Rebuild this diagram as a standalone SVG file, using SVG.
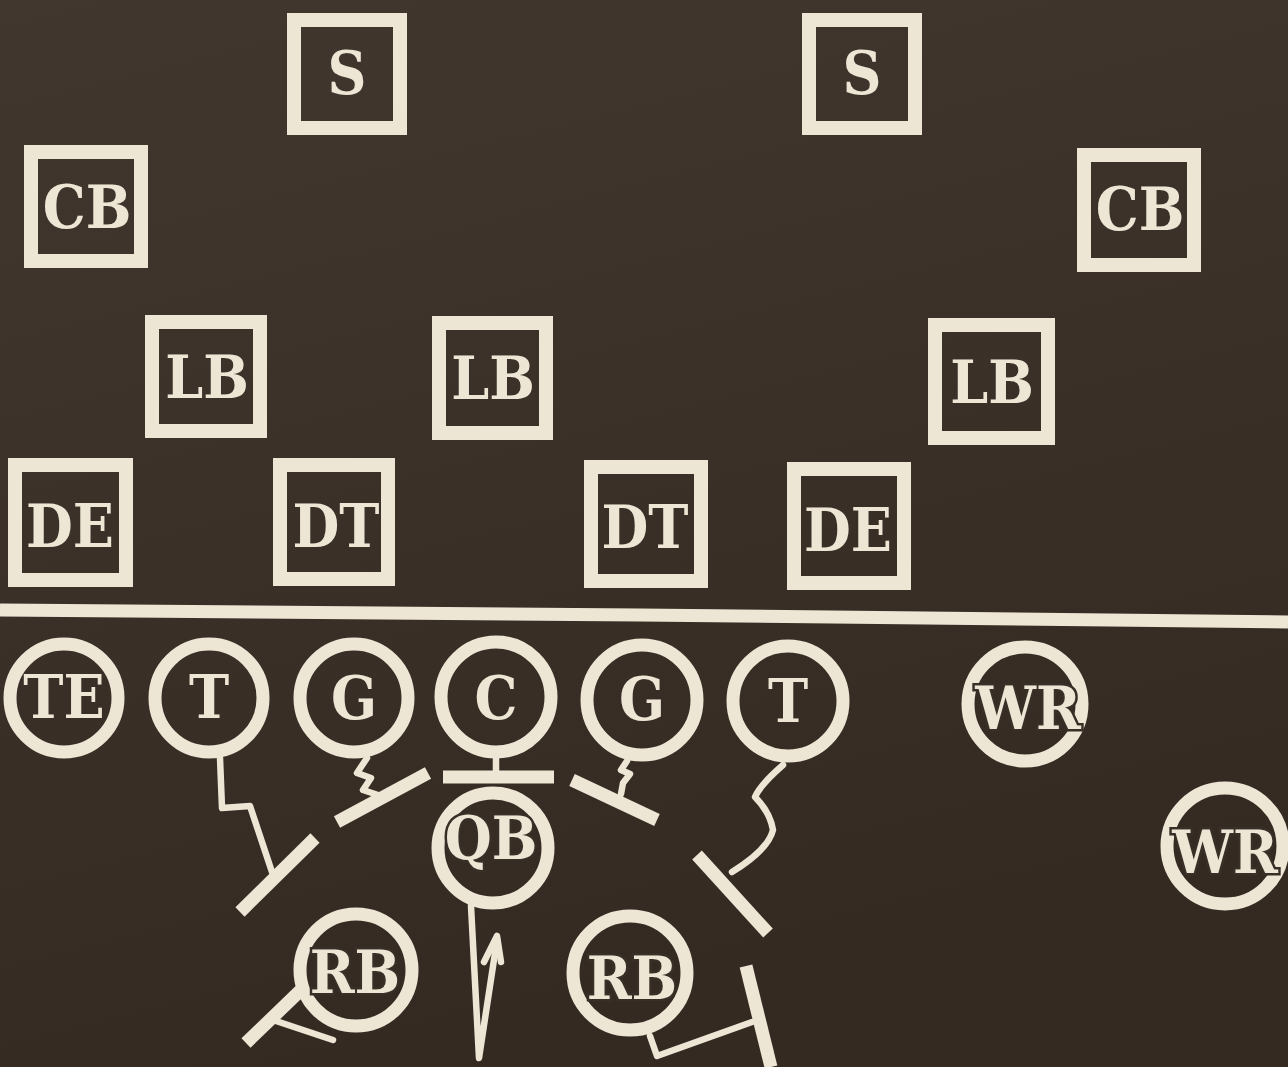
<svg xmlns="http://www.w3.org/2000/svg" width="1288" height="1067" viewBox="0 0 1288 1067">
<defs>
<linearGradient id="bg" x1="0" y1="0" x2="0.3" y2="1">
<stop offset="0" stop-color="#41372e"/>
<stop offset="1" stop-color="#342a22"/>
</linearGradient>
</defs>
<style>
.box{fill:none;stroke:#ede6d5;stroke-width:14}
.ring{fill:none;stroke:#ede6d5;stroke-width:13}
.lbl{fill:#ede6d5;font-family:"DejaVu Serif Condensed","DejaVu Serif","Liberation Serif",serif;font-stretch:condensed;font-weight:bold;font-size:60px;text-anchor:middle}
.halo{stroke:#382f27;stroke-width:5;paint-order:stroke}
.bar{stroke:#ede6d5;stroke-width:13;stroke-linecap:butt;fill:none}
.stem{stroke:#ede6d5;stroke-width:6.5;stroke-linecap:round;stroke-linejoin:round;fill:none}
.los{stroke:#ede6d5;stroke-width:13;fill:none}
</style>
<rect width="1288" height="1067" fill="url(#bg)"/>
<path class="los" d="M0,610 L640,615 L1288,622"/>
<g id="defense">
<g id="S1"><rect class="box" x="294" y="20" width="106" height="108"/><text class="lbl" x="347" y="94">S</text></g>
<g id="S2"><rect class="box" x="809" y="20" width="106" height="108"/><text class="lbl" x="862" y="94">S</text></g>
<g id="CB1"><rect class="box" x="31" y="152" width="110" height="109"/><text class="lbl" x="87" y="228">CB</text></g>
<g id="CB2"><rect class="box" x="1084" y="155" width="110" height="110"/><text class="lbl" x="1140" y="230">CB</text></g>
<g id="LB1"><rect class="box" x="152" y="322" width="108" height="109"/><text class="lbl" x="207" y="398">LB</text></g>
<g id="LB2"><rect class="box" x="439" y="323" width="107" height="110"/><text class="lbl" x="493" y="399">LB</text></g>
<g id="LB3"><rect class="box" x="935" y="325" width="113" height="113"/><text class="lbl" x="992" y="403">LB</text></g>
<g id="DE1"><rect class="box" x="15" y="465" width="111" height="115"/><text class="lbl" x="70" y="547">DE</text></g>
<g id="DT1"><rect class="box" x="280" y="465" width="108" height="114"/><text class="lbl" x="336" y="547">DT</text></g>
<g id="DT2"><rect class="box" x="591" y="467" width="110" height="114"/><text class="lbl" x="645" y="548">DT</text></g>
<g id="DE2"><rect class="box" x="794" y="469" width="110" height="114"/><text class="lbl" x="848" y="551">DE</text></g>
</g>
<g id="connectors">
<path class="stem" d="M220,758 L222,808 L250,806 L272,872"/>
<path class="bar" d="M240,912 L315,838"/>
<path class="stem" d="M367,758 L357,773 L371,778 L363,790 L378,795"/>
<path class="bar" d="M337,822 L428,773"/>
<path class="stem" d="M496,758 L496,772"/>
<path class="bar" d="M443,777 L554,777"/>
<path class="stem" d="M627,761 L621,770 L630,774 L623,783 L621,794"/>
<path class="bar" d="M572,780 L657,820"/>
<path class="stem" d="M783,765 Q760,785 755,797 Q770,812 773,830 Q768,850 732,872"/>
<path class="bar" d="M697,855 L768,933"/>
<path class="stem" d="M471,906 L479,1058 L497,940"/>
<path class="stem" d="M484,962 L497,936 L501,962"/>
<path class="stem" d="M333,1040 L273,1020"/>
<path class="bar" d="M246,1043 L302,989"/>
<path class="stem" d="M650,1036 L657,1056 L752,1022"/>
<path class="bar" d="M746,966 L771,1067"/>
</g>
<g id="offense">
<g id="TE"><circle class="ring" cx="64" cy="698" r="54"/><text class="lbl" x="64" y="718">TE</text></g>
<g id="T1"><circle class="ring" cx="209" cy="698" r="54"/><text class="lbl" x="209" y="718">T</text></g>
<g id="G1"><circle class="ring" cx="354" cy="698" r="54"/><text class="lbl" x="354" y="719">G</text></g>
<g id="C"><circle class="ring" cx="496" cy="697" r="55"/><text class="lbl" x="496" y="719">C</text></g>
<g id="G2"><circle class="ring" cx="642" cy="700" r="55"/><text class="lbl" x="642" y="720">G</text></g>
<g id="T2"><circle class="ring" cx="788" cy="701" r="55"/><text class="lbl" x="788" y="722">T</text></g>
<g id="WR1"><circle class="ring" cx="1025" cy="704" r="57"/><text class="lbl halo" x="1028" y="729">WR</text></g>
<g id="WR2"><circle class="ring" cx="1225" cy="846" r="58"/><text class="lbl halo" x="1225" y="873">WR</text></g>
<g id="QB"><circle class="ring" cx="493" cy="848" r="55"/><text class="lbl halo" x="491" y="859">QB</text></g>
<g id="RB1"><circle class="ring" cx="356" cy="970" r="56"/><text class="lbl halo" x="355" y="993">RB</text></g>
<g id="RB2"><circle class="ring" cx="630" cy="973" r="57"/><text class="lbl halo" x="632" y="999">RB</text></g>
</g>
</svg>
